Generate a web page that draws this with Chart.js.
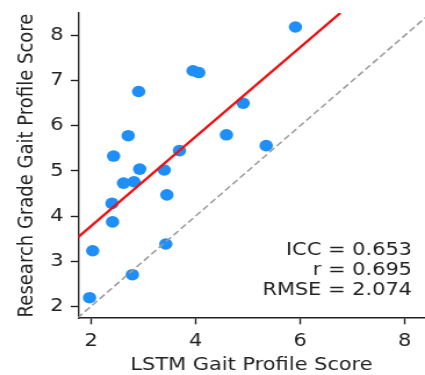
<!DOCTYPE html>
<html>
<head>
<meta charset="utf-8">
<script src="https://cdn.jsdelivr.net/npm/chart.js@4"></script>
<style>
  html, body { margin: 0; padding: 0; background: #fff; overflow: hidden; }
  /* figure is drawn narrow and widened horizontally */
  #grafico { display: block; transform: scaleX(1.1612); transform-origin: 0 0; }
</style>
</head>
<body>
<canvas id="grafico" width="366" height="375"></canvas>
<script>
// Puntuaciones por sujeto
const lstmGps = [5.91, 3.95, 4.06, 2.91, 4.91, 2.71, 4.59, 5.35, 3.69, 2.43, 2.93,
                 3.40, 2.62, 2.82, 3.45, 2.40, 2.41, 3.43, 2.03, 2.79, 1.97];
const researchGps = [8.19, 7.22, 7.18, 6.76, 6.50, 5.78, 5.80, 5.56, 5.45, 5.33, 5.04,
                     5.02, 4.73, 4.76, 4.47, 4.28, 3.87, 3.38, 3.23, 2.70, 2.19];

// Recta de regresion (extremos) e identidad
const fitX = [1.75, 6.77];
const fitY = [3.53, 8.50];
const identity = [1.74, 8.5];

const xTicks = [2, 4, 6, 8];
const yTicks = [2, 3, 4, 5, 6, 7, 8];
const xRange = [1.75, 8.39];
const yRange = [1.74, 8.5];

const stats = ['ICC = 0.653', 'r = 0.695', 'RMSE = 2.074'];

const FONT = 'DejaVu Sans';
const INK = '#222';

const textoStats = {
    id: 'textoStats',
    afterDatasetsDraw(chart) {
        const { ctx, chartArea } = chart;
        ctx.save();
        ctx.font = `18px "${FONT}"`;
        ctx.fillStyle = INK;
        ctx.textAlign = 'right';
        ctx.textBaseline = 'middle';
        stats.forEach((t, i) => {
            ctx.fillText(t, chartArea.right - 11.2, chartArea.bottom - 68 + i * 20.3);
        });
        ctx.restore();
    }
};

function ejeConfig(range, ticks, titulo, fixSize) {
    return {
        type: 'linear',
        min: range[0],
        max: range[1],
        afterBuildTicks: s => { s.ticks = ticks.map(v => ({ value: v })); },
        afterFit: s => {
            fixSize(s);
            // sin margen extra por las etiquetas de los extremos
            s.paddingLeft = s.paddingRight = s.paddingTop = s.paddingBottom = 0;
        },
        grid: {
            display: true,
            drawOnChartArea: false,
            drawTicks: true,
            tickLength: 6.3,
            tickWidth: 1.4,
            tickColor: INK
        },
        border: { display: true, color: INK, width: 1.4 },
        ticks: {
            padding: 6.3,
            color: INK,
            font: { family: FONT, size: 18 },
            callback: v => String(v)
        },
        title: {
            display: true,
            text: titulo,
            color: INK,
            font: { family: FONT, size: 18, lineHeight: 1.1 },
            padding: 0
        }
    };
}

const x = ejeConfig(xRange, xTicks, 'LSTM Gait Profile Score', s => { s.height = 57; });
x.title.padding = { top: 0, bottom: 0 };
const y = ejeConfig(yRange, yTicks, 'Research Grade Gait Profile Score', s => { s.width = 67.2; });
y.title.padding = { top: 13, bottom: 0 };

new Chart(document.getElementById('grafico'), {
    type: 'scatter',
    data: {
        datasets: [
            {
                data: fitX.map((v, i) => ({ x: v, y: fitY[i] })),
                showLine: true,
                borderColor: '#f01010',
                borderWidth: 2.4,
                pointRadius: 0
            },
            {
                data: identity.map(v => ({ x: v, y: v })),
                showLine: true,
                borderColor: '#9a9a9a',
                borderWidth: 1.5,
                borderDash: [6, 3],
                pointRadius: 0
            },
            {
                data: lstmGps.map((v, i) => ({ x: v, y: researchGps[i] })),
                backgroundColor: '#1e8ff8',
                borderWidth: 0,
                pointRadius: 5.8
            }
        ]
    },
    options: {
        responsive: false,
        animation: false,
        layout: { autoPadding: false, padding: { top: 13, right: 0, left: 0, bottom: 0 } },
        plugins: { legend: { display: false }, tooltip: { enabled: false } },
        scales: { x, y }
    },
    plugins: [textoStats]
});
</script>
</body>
</html>
